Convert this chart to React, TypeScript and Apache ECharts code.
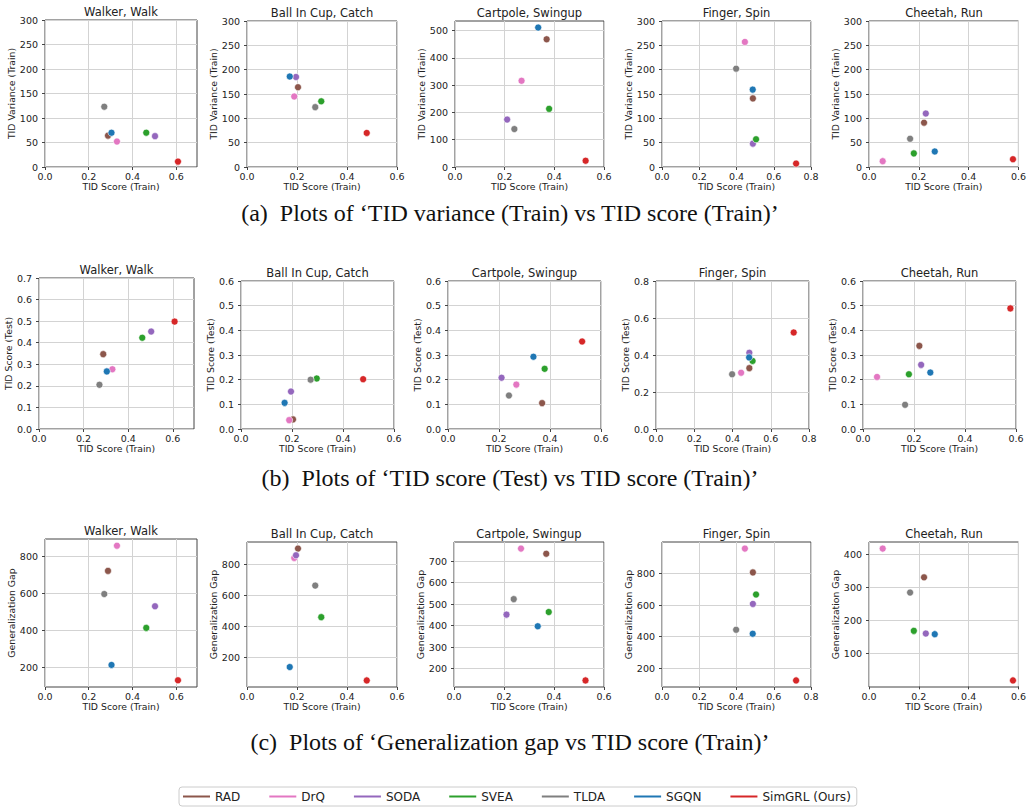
import React, { useEffect, useRef } from "react";
import * as echarts from "echarts";

// ---------------- data ----------------
const methods = ["RAD", "DrQ", "SODA", "SVEA", "TLDA", "SGQN", "SimGRL (Ours)"];
const envTitles = ["Walker, Walk", "Ball In Cup, Catch", "Cartpole, Swingup", "Finger, Spin", "Cheetah, Run"];

// each inner array follows the order of `methods`
const tidScoreTrain = [
  [0.288, 0.329, 0.503, 0.463, 0.271, 0.304, 0.608],
  [0.204, 0.189, 0.196, 0.297, 0.273, 0.171, 0.479],
  [0.369, 0.268, 0.21, 0.379, 0.239, 0.335, 0.526],
  [0.488, 0.445, 0.488, 0.505, 0.398, 0.487, 0.72],
  [0.221, 0.055, 0.228, 0.18, 0.165, 0.264, 0.578],
];
const tidVarianceTrain = [
  [64, 52, 63, 70, 123, 70, 11],
  [164, 145, 185, 135, 123, 186, 70],
  [468, 316, 174, 213, 139, 511, 23],
  [141, 257, 48, 57, 202, 159, 7],
  [91, 12, 110, 28, 58, 32, 16],
];
const tidScoreTest = [
  [0.347, 0.277, 0.452, 0.423, 0.205, 0.267, 0.498],
  [0.039, 0.036, 0.152, 0.205, 0.2, 0.106, 0.202],
  [0.105, 0.18, 0.208, 0.244, 0.136, 0.293, 0.355],
  [0.329, 0.304, 0.412, 0.368, 0.296, 0.387, 0.522],
  [0.337, 0.211, 0.26, 0.222, 0.098, 0.229, 0.489],
];
const generalizationGap = [
  [721, 857, 530, 413, 596, 213, 130],
  [900, 840, 857, 459, 662, 138, 52],
  [734, 758, 451, 463, 523, 397, 145],
  [808, 959, 608, 668, 444, 419, 123],
  [330, 417, 160, 168, 284, 158, 18],
];

// axis limits and tick labels
const xAxisMax = [0.695, 0.6, 0.6, 0.8, 0.6];
const xTickValues = [
  [0, 0.2, 0.4, 0.6],
  [0, 0.2, 0.4, 0.6],
  [0, 0.2, 0.4, 0.6],
  [0, 0.2, 0.4, 0.6, 0.8],
  [0, 0.2, 0.4, 0.6],
];
const varianceAxisMax = [300, 300, 535, 300, 300];
const varianceTickValues = [
  [0, 50, 100, 150, 200, 250, 300],
  [0, 50, 100, 150, 200, 250, 300],
  [0, 100, 200, 300, 400, 500],
  [0, 50, 100, 150, 200, 250, 300],
  [0, 50, 100, 150, 200, 250, 300],
];
const testAxisMax = [0.7, 0.6, 0.6, 0.8, 0.6];
const testTickValues = [
  [0, 0.1, 0.2, 0.3, 0.4, 0.5, 0.6, 0.7],
  [0, 0.1, 0.2, 0.3, 0.4, 0.5, 0.6],
  [0, 0.1, 0.2, 0.3, 0.4, 0.5, 0.6],
  [0, 0.2, 0.4, 0.6, 0.8],
  [0, 0.1, 0.2, 0.3, 0.4, 0.5, 0.6],
];
const gapTickValues = [
  [200, 400, 600, 800],
  [200, 400, 600, 800],
  [200, 300, 400, 500, 600, 700],
  [200, 400, 600, 800],
  [100, 200, 300, 400],
];

const yAxisNames = ["TID Variance (Train)", "TID Score (Test)", "Generalization Gap"];
const xAxisName = "TID Score (Train)";
const captions = [
  "(a)  Plots of \u2018TID variance (Train) vs TID score (Train)\u2019",
  "(b)  Plots of \u2018TID score (Test) vs TID score (Train)\u2019",
  "(c)  Plots of \u2018Generalization gap vs TID score (Train)\u2019",
];

// ---------------- styles / layout ----------------
const methodColors = ["#8c564b", "#e377c2", "#9467bd", "#2ca02c", "#7f7f7f", "#1f77b4", "#d62728"];
const gridRects = [
  [[45, 20, 152, 147], [247, 21, 150, 146], [455, 21, 149, 146], [662, 21, 149, 146], [869, 21, 150, 146]],
  [[39, 278, 155, 151], [241, 281, 153, 148], [448, 281, 153, 148], [656, 281, 153, 148], [863, 281, 153, 148]],
  [[45, 539, 152, 148], [247, 542, 150, 145], [454, 542, 150, 145], [662, 542, 149, 145], [869, 542, 150, 145]],
];
const yNameGaps = [24.5, 22, 26.5];
const captionY = [213, 478, 742];
const FONT = "DejaVu Sans";
const TEXT = "#222222";
const SPINE = "#444444";
const GRIDLINE = "#d3d3d3";

function paddedRange(vals: number[]): [number, number] {
  const lo = Math.min(...vals);
  const hi = Math.max(...vals);
  const pad = 0.05 * (hi - lo);
  return [lo - pad, hi + pad];
}

export default function App() {
  const ref = useRef<HTMLDivElement>(null);

  useEffect(() => {
    if (!ref.current) return;
    const chart = echarts.init(ref.current, undefined, { renderer: "svg" });

    const grids: any[] = [];
    const xAxes: any[] = [];
    const yAxes: any[] = [];
    const series: any[] = [];
    const graphics: any[] = [];

    const rowsY = [tidVarianceTrain, tidScoreTest, generalizationGap];

    for (let r = 0; r < 3; r++) {
      for (let e = 0; e < 5; e++) {
        const idx = r * 5 + e;
        const [left, top, width, height] = gridRects[r][e];
        grids.push({
          left,
          top,
          width,
          height,
          show: true,
          borderColor: SPINE,
          borderWidth: 1,
          backgroundColor: "#ffffff",
          containLabel: false,
        });

        xAxes.push({
          type: "value",
          gridIndex: idx,
          min: 0,
          max: xAxisMax[e],
          name: xAxisName,
          nameLocation: "middle",
          nameGap: 15,
          nameTextStyle: { fontFamily: FONT, fontSize: 9.3, color: TEXT },
          axisLine: { show: false },
          axisTick: { show: true, inside: false, length: 3, customValues: xTickValues[e], lineStyle: { color: SPINE } },
          axisLabel: {
            customValues: xTickValues[e],
            formatter: (v: number) => v.toFixed(1),
            fontFamily: FONT,
            fontSize: 9.5,
            color: TEXT,
            margin: 4,
          },
          splitLine: { show: true, lineStyle: { color: GRIDLINE, width: 1 } },
        });

        let yMin = 0;
        let yMax = 0;
        let yTicks: number[] = [];
        let fmt: (v: number) => string = (v) => String(v);
        if (r === 0) {
          yMax = varianceAxisMax[e];
          yTicks = varianceTickValues[e];
        } else if (r === 1) {
          yMax = testAxisMax[e];
          yTicks = testTickValues[e];
          fmt = (v) => v.toFixed(1);
        } else {
          const rg = paddedRange(generalizationGap[e]);
          yMin = rg[0];
          yMax = rg[1];
          yTicks = gapTickValues[e];
        }

        yAxes.push({
          type: "value",
          gridIndex: idx,
          min: yMin,
          max: yMax,
          name: yAxisNames[r],
          nameLocation: "middle",
          nameGap: yNameGaps[r],
          nameTextStyle: { fontFamily: FONT, fontSize: 9.3, color: TEXT },
          axisLine: { show: false },
          axisTick: { show: true, inside: false, length: 3, customValues: yTicks, lineStyle: { color: SPINE } },
          axisLabel: {
            customValues: yTicks,
            formatter: fmt,
            fontFamily: FONT,
            fontSize: 9.5,
            color: TEXT,
            margin: 7,
          },
          splitLine: { show: true, lineStyle: { color: GRIDLINE, width: 1 } },
        });

        for (let m = 0; m < methods.length; m++) {
          series.push({
            type: "scatter",
            name: methods[m],
            xAxisIndex: idx,
            yAxisIndex: idx,
            data: [[tidScoreTrain[e][m], rowsY[r][e][m]]],
            symbol: "circle",
            symbolSize: 7,
            itemStyle: { color: methodColors[m], borderColor: "#ffffff", borderWidth: 0.6, opacity: 1 },
            emphasis: { disabled: true },
            z: 3,
          });
        }

        graphics.push({
          type: "text",
          x: left + width / 2,
          y: top - 8.5,
          style: {
            text: envTitles[e],
            fontFamily: FONT,
            fontSize: 11.5,
            fill: TEXT,
            textAlign: "center",
            textVerticalAlign: "middle",
          },
        });
      }

      graphics.push({
        type: "text",
        x: 510,
        y: captionY[r],
        style: {
          text: captions[r],
          fontFamily: "Liberation Serif",
          fontSize: 24,
          fill: "#111111",
          textAlign: "center",
          textVerticalAlign: "middle",
        },
      });
    }

    chart.setOption({
      animation: false,
      backgroundColor: "#ffffff",
      grid: grids,
      xAxis: xAxes,
      yAxis: yAxes,
      series,
      graphic: graphics,
      legend: {
        data: methods,
        left: 179,
        top: 787,
        orient: "horizontal",
        icon: "rect",
        itemWidth: 27,
        itemHeight: 2,
        itemGap: 29,
        padding: [3.5, 6, 3.5, 4],
        borderColor: "#cccccc",
        borderWidth: 1,
        borderRadius: 3,
        backgroundColor: "#ffffff",
        itemStyle: { borderWidth: 0 },
        textStyle: { fontFamily: FONT, fontSize: 12, color: TEXT },
        selectedMode: false,
      },
    });

    return () => {
      chart.dispose();
    };
  }, []);

  return (
    <div
      ref={ref}
      style={{ position: "fixed", left: 0, top: 0, width: 1029, height: 810, background: "#ffffff" }}
    />
  );
}
